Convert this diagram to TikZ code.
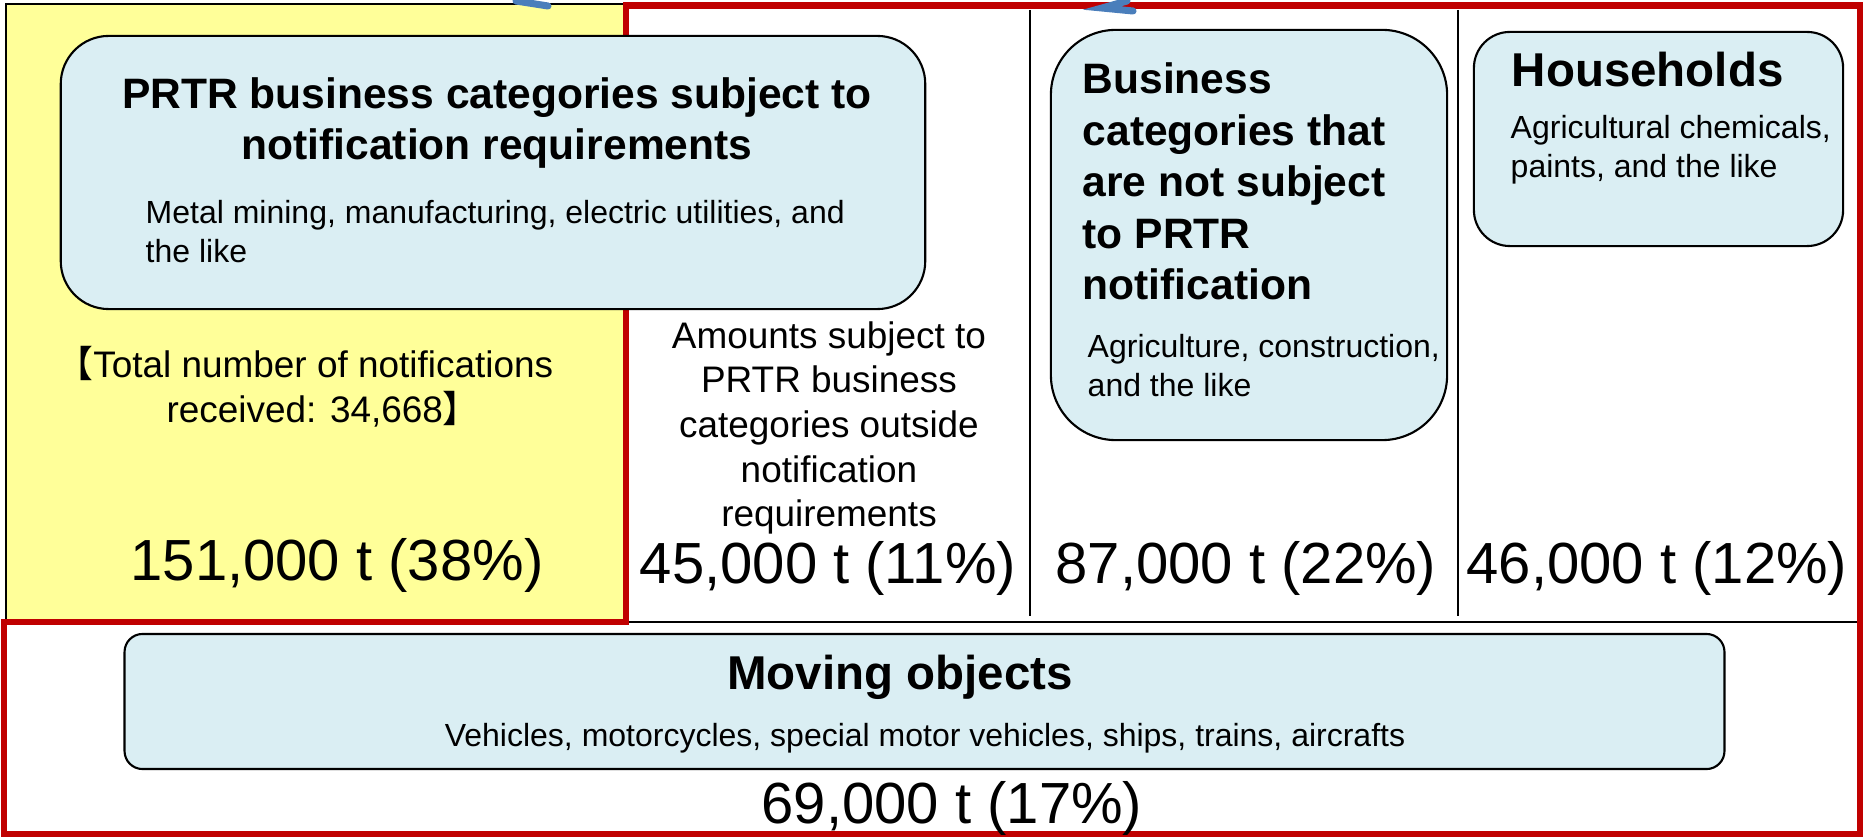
\documentclass[tikz,border=0pt]{standalone}
\usepackage{fontspec}
\setmainfont{Liberation Sans}
\newfontfamily\cjkfont[RawFeature=+halt]{Noto Sans CJK JP}
\usepackage{xcolor}
\usepackage{tikz}
\usetikzlibrary{positioning}
\definecolor{myyellow}{HTML}{FFFF99}
\definecolor{myblue}{HTML}{DAEEF3}
\definecolor{myred}{HTML}{C00000}
\definecolor{mymark}{HTML}{4A7EBB}
\tikzstyle{catbox} = [draw=black, fill=myblue, line width=0.6pt, inner sep=0pt]
\tikzstyle{amount} = [inner sep=0pt, font=\fontsize{16.5}{19}\selectfont]
\tikzstyle{head} = [inner sep=0pt, font=\bfseries\fontsize{12.1}{14.65}\selectfont]
\tikzstyle{bighead} = [inner sep=0pt, font=\bfseries\fontsize{13.5}{16}\selectfont]
\tikzstyle{midtext} = [inner sep=0pt, align=center, font=\fontsize{10.5}{12.7}\selectfont]
\tikzstyle{smalltext} = [inner sep=0pt, align=left, font=\fontsize{9.1}{11.1}\selectfont]
\tikzstyle{bluestroke} = [mymark, line width=2pt, line cap=round]

\begin{document}
\begin{tikzpicture}[x=0.01cm, y=-0.01cm]
\useasboundingbox (0,0) rectangle (1864,837);

% notified part
\filldraw[fill=myyellow, draw=black, line width=0.5pt] (6,4) rectangle (624,620);

% columns
\draw[line width=0.5pt] (1030,10) -- (1030,616);
\draw[line width=0.5pt] (1458,10) -- (1458,616);
\draw[line width=0.6pt] (626,622) -- (1860,622);

% estimated part
\draw[myred, line width=1.9pt] (626,5.5) -- (1860,5.5) -- (1860,834) -- (4,834) -- (4,622) -- (626,622) -- cycle;

% notified business categories
\node[catbox, rounded corners=0.48cm, minimum width=8.64cm, minimum height=2.73cm] (regbox) at (493,172.5) {};
\node[head, align=center] (regtitle) at (497,123) {PRTR business categories subject to\\notification requirements};
\node[smalltext, anchor=west] (regtext) at (145,232) {Metal mining, manufacturing, electric utilities, and\\the like};
\node[midtext] (regcount) at (314,387) {{\cjkfont 【}Total number of notifications\\received: 34,668{\cjkfont 】}};
\node[amount] (regamount) at (337,565) {151,000 t (38\%)};

% outside notification requirements
\node[midtext] (outtext) at (829,428) {Amounts subject to\\PRTR business\\categories outside\\notification\\requirements};
\node[amount] (outamount) at (828,568) {45,000 t (11\%)};

% not subject to PRTR
\node[catbox, rounded corners=0.65cm, minimum width=3.96cm, minimum height=4.10cm] (nonbox) at (1249,235) {};
\node[head, align=left, anchor=west] (nontitle) at (1082,181.5) {Business\\categories that\\are not subject\\to PRTR\\notification};
\node[smalltext, anchor=west] (nontext) at (1087,366) {Agriculture, construction,\\and the like};
\node[amount] (nonamount) at (1246,568) {87,000 t (22\%)};

% households
\node[catbox, rounded corners=0.36cm, minimum width=3.69cm, minimum height=2.14cm] (housebox) at (1658.5,139) {};
\node[bighead, anchor=west] (housetitle) at (1511,70) {Households};
\node[smalltext, anchor=west] (housetext) at (1510,150) {Agricultural chemicals,\\paints, and the like};
\node[amount] (houseamount) at (1657,568) {46,000 t (12\%)};

% moving objects
\node[catbox, rounded corners=0.18cm, minimum width=15.99cm, minimum height=1.35cm] (movebox) at (924.5,701.5) {};
\node[bighead] (movetitle) at (900,677) {Moving objects};
\node[smalltext] (movetext) at (925,738) {Vehicles, motorcycles, special motor vehicles, ships, trains, aircrafts};
\node[amount] (moveamount) at (952,808) {69,000 t (17\%)};

% cut-off marks at the top
\draw[bluestroke] (516,1) -- (548,6);
\draw[bluestroke] (1127,1) -- (1102,8) -- (1133,11);
\end{tikzpicture}
\end{document}
